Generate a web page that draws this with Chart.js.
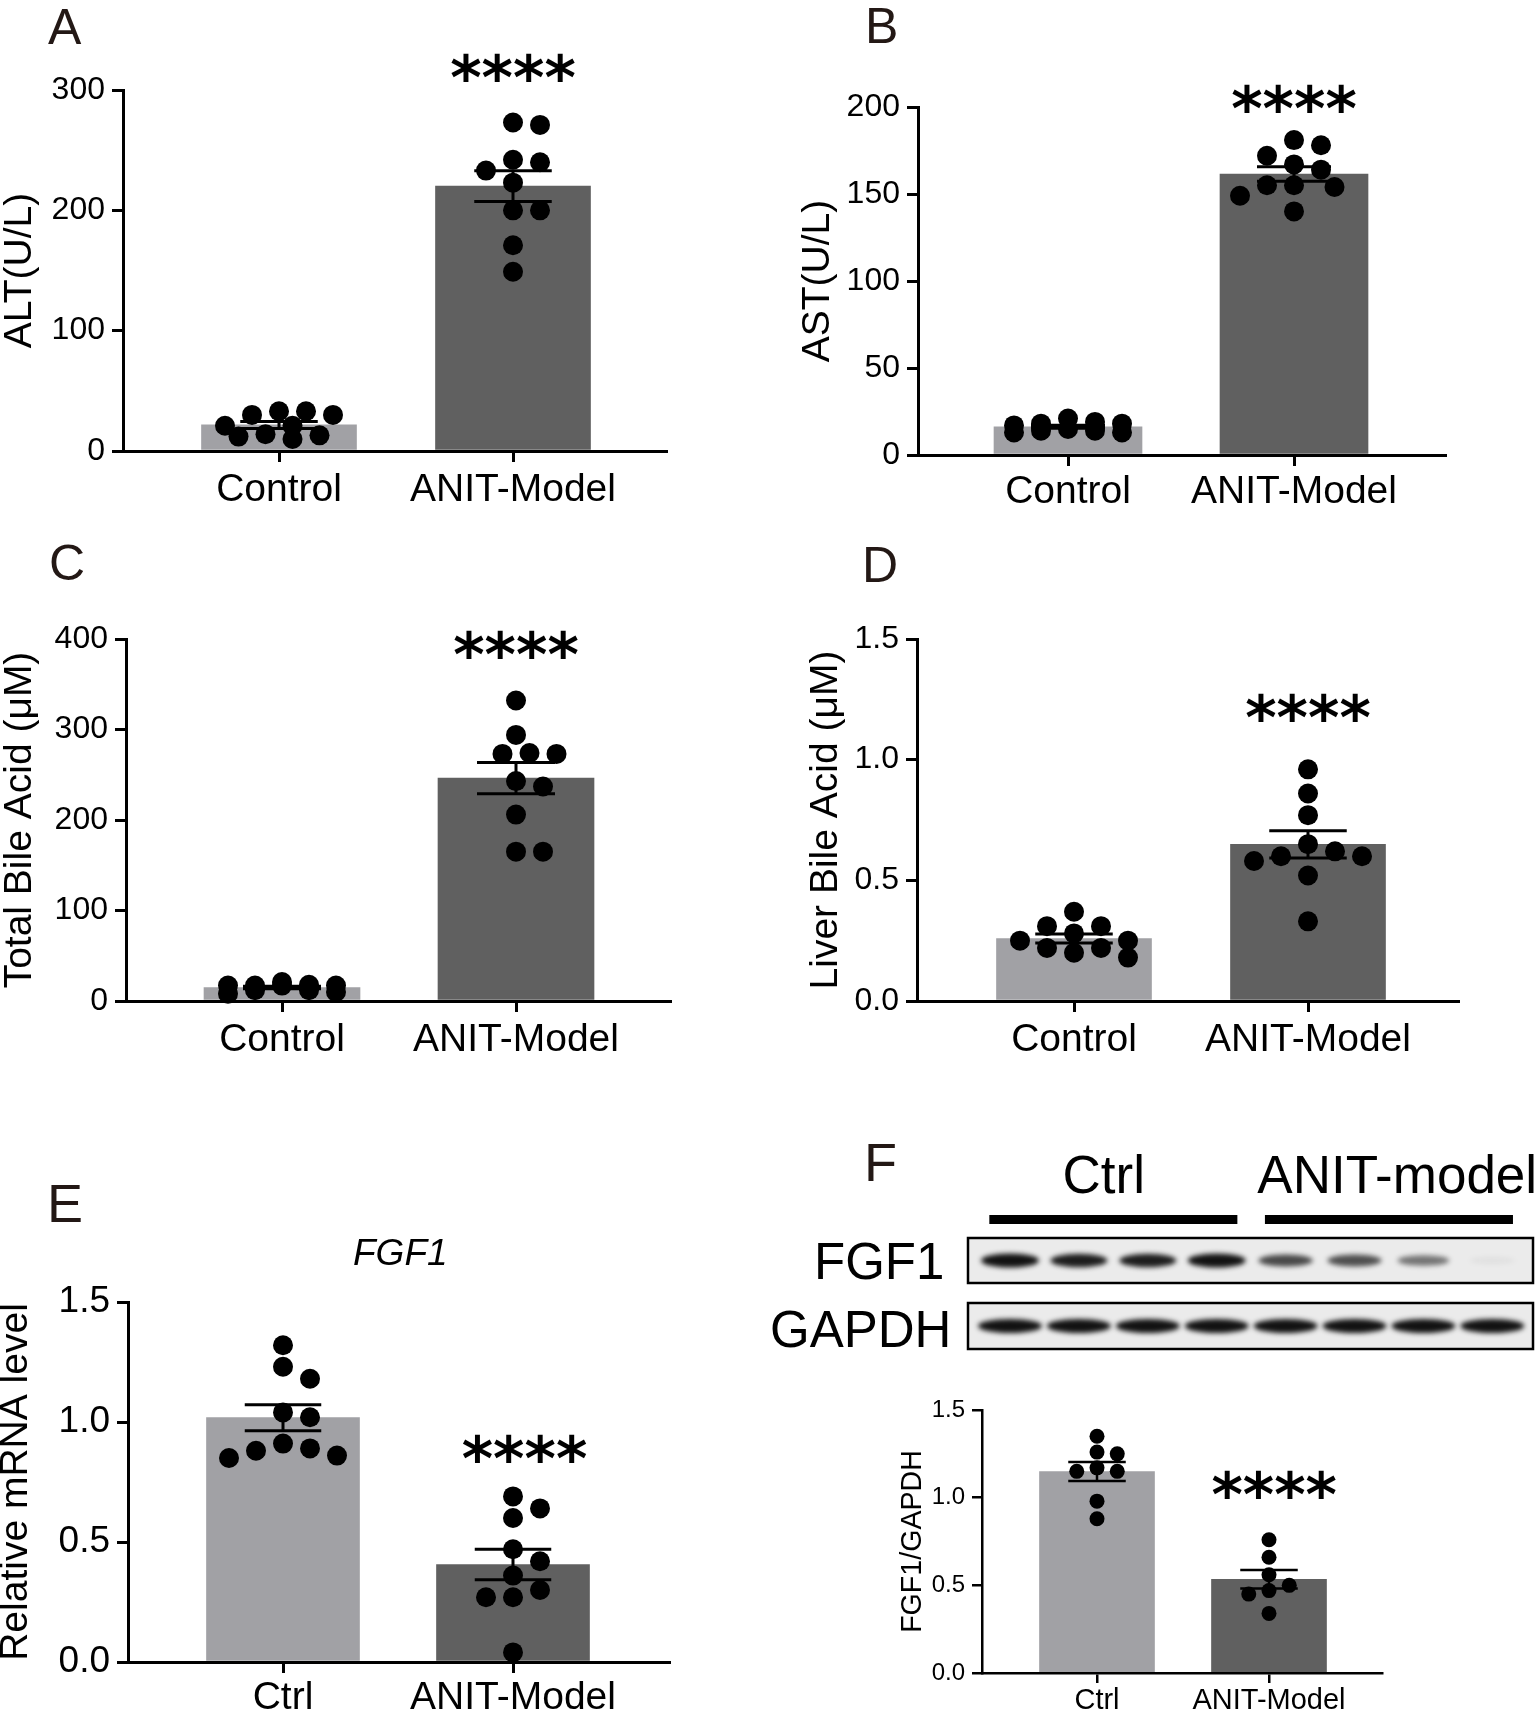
<!DOCTYPE html>
<html>
<head>
<meta charset="utf-8">
<script src="https://cdn.jsdelivr.net/npm/chart.js@4.4.1/dist/chart.umd.min.js"></script>
<style>
html, body { margin: 0; padding: 0; background: #fff; }
#page { position: relative; width: 1535px; height: 1712px; overflow: hidden; background: #fff; }
#page canvas { position: absolute; }
.letter { position: absolute; font-family: 'Liberation Sans', Arial, sans-serif; line-height: 1; color: #231815; }
</style>
</head>
<body>
<div id="page">
  <div class="letter" style="left:48px;top:2px;font-size:50px">A</div>
  <div class="letter" style="left:865px;top:1px;font-size:50px">B</div>
  <div class="letter" style="left:49px;top:538px;font-size:50px">C</div>
  <div class="letter" style="left:862px;top:540px;font-size:50px">D</div>
  <div class="letter" style="left:47px;top:1176px;font-size:54px">E</div>
  <div class="letter" style="left:864px;top:1135px;font-size:54px">F</div>
</div>
<script>
'use strict';

// ---- data ----
var groupsLong  = ['Control', 'ANIT-Model'];
var groupsShort = ['Ctrl', 'ANIT-Model'];

var altControl = [30, 33, 33, 30, 21, 21, 14, 13, 10, 12];
var altModel   = [271, 273, 242, 240, 233, 223, 200, 200, 171, 149];

var astControl = [18, 19, 21, 18, 17, 14, 13, 14, 13, 15];
var astModel   = [178, 181, 167, 172, 164, 155, 155, 154, 149, 140];

var tbaControl = [17, 17, 12, 18, 8, 10, 21, 12, 17, 17];
var tbaModel   = [332, 294, 273, 273, 274, 243, 237, 206, 165, 165];

var lbaControl = [0.37, 0.31, 0.31, 0.28, 0.25, 0.25, 0.22, 0.22, 0.20, 0.18];
var lbaModel   = [0.96, 0.86, 0.77, 0.65, 0.62, 0.60, 0.58, 0.60, 0.52, 0.33];

var mrnaCtrl  = [1.32, 1.23, 1.18, 1.04, 1.02, 0.91, 0.88, 0.85, 0.86, 0.89];
var mrnaModel = [0.69, 0.64, 0.60, 0.47, 0.42, 0.36, 0.30, 0.27, 0.27, 0.04];

var wbCtrl  = [1.35, 1.26, 1.25, 1.17, 1.15, 1.15, 0.98, 0.88];
var wbModel = [0.76, 0.66, 0.56, 0.50, 0.47, 0.45, 0.34];

// western blot band strength per lane (0..1)
var blotGroups = ['Ctrl', 'ANIT-model'];
var fgf1Band   = [1, 0.95, 0.95, 1, 0.75, 0.72, 0.55, 0.05];
var gapdhBand  = [1, 1, 1, 1, 1, 1, 1, 1];

var ctrlGray  = '#a1a1a5';
var modelGray = '#606060';
var FONT = "'Liberation Sans', Arial, sans-serif";

Chart.defaults.font.family = FONT;
Chart.defaults.color = '#000';
Chart.defaults.animation = false;

var page = document.getElementById('page');

function mean(a) {
    return a.reduce(function (s, v) { return s + v; }, 0) / a.length;
}
function sem(a) {
    var m = mean(a);
    var ss = a.reduce(function (s, v) { return s + (v - m) * (v - m); }, 0);
    return Math.sqrt(ss / (a.length - 1)) / Math.sqrt(a.length);
}

function addCanvas(box) {
    var cv = document.createElement('canvas');
    cv.width = box[2];
    cv.height = box[3];
    cv.style.left = box[0] + 'px';
    cv.style.top = box[1] + 'px';
    page.appendChild(cv);
    return cv;
}

// spread the dots of each group sideways on a small grid of offsets,
// keeping them inside the bar and letting them overlap when they must
var swarmPlugin = {
    id: 'swarm',
    afterDatasetsUpdate: function (chart, args, opts) {
        var gx = opts.gx, gy = opts.gy, step = opts.step;
        var maxK = Math.floor(opts.maxOff / step);
        chart.data.datasets.forEach(function (ds, di) {
            if (ds.type !== 'scatter') return;
            var pts = chart.getDatasetMeta(di).data;
            var idx = pts.map(function (p, i) { return i; })
                .sort(function (a, b) { return pts[a].y - pts[b].y; });
            var placed = [];
            idx.forEach(function (i) {
                var y = pts[i].y, best = 0, bestPen = Infinity;
                for (var k = 0; k <= maxK; k++) {
                    [k, -k].forEach(function (kk) {
                        var c = kk * step, pen = Math.abs(c) * 1e-4;
                        placed.forEach(function (q) {
                            var u = (q.off - c) / gx, w = (q.y - y) / gy, d2 = u * u + w * w;
                            if (d2 < 1) pen += 1 - d2;
                        });
                        if (pen < bestPen - 1e-9) { bestPen = pen; best = c; }
                    });
                }
                placed.push({ off: best, y: y });
                pts[i].x += best;
            });
        });
    }
};

function panel(p) {
    var box = p.box;
    var cv = addCanvas(box);
    var unit = p.centers[1] - p.centers[0];
    var axisStyle = {
        display: true, drawOnChartArea: false, drawTicks: true, offset: false,
        tickLength: p.tl, tickWidth: p.lw, lineWidth: p.lw, tickColor: '#000', color: '#000'
    };

    var notes = {
        id: 'notes',
        afterDatasetsDraw: function (chart) {
            var ctx = chart.ctx, xs = chart.scales.x, ys = chart.scales.y;
            var cap = p.barW * 0.25;
            ctx.save();
            ctx.strokeStyle = '#000';
            ctx.lineWidth = p.lw;
            p.values.forEach(function (vals, g) {
                var m = mean(vals), e = sem(vals);
                var x = xs.getPixelForValue(g);
                var t = ys.getPixelForValue(m + e), b = ys.getPixelForValue(m - e);
                ctx.beginPath();
                ctx.moveTo(x, t); ctx.lineTo(x, b);
                ctx.moveTo(x - cap, t); ctx.lineTo(x + cap, t);
                ctx.moveTo(x - cap, b); ctx.lineTo(x + cap, b);
                ctx.stroke();
            });
            ctx.restore();
        },
        afterDraw: function (chart) {
            var ctx = chart.ctx, xs = chart.scales.x, ys = chart.scales.y;
            ctx.save();
            ctx.fillStyle = '#000';
            ctx.textAlign = 'center';
            ctx.textBaseline = 'alphabetic';
            ctx.font = 'bold 60px "DejaVu Sans"';
            ctx.fillText('****', xs.getPixelForValue(p.star[0]), ys.getPixelForValue(p.star[1]) + 0.55 * 60);
            if (p.heading) {
                ctx.font = 'italic ' + p.heading.size + 'px ' + FONT;
                ctx.fillText(p.heading.text, xs.getPixelForValue(p.heading.at[0]), ys.getPixelForValue(p.heading.at[1]));
            }
            ctx.restore();
        }
    };

    return new Chart(cv, {
        type: 'scatter',
        data: {
            datasets: [
                {
                    type: 'scatter',
                    data: p.values[0].map(function (v) { return { x: 0, y: v }; }),
                    pointRadius: p.r, pointHoverRadius: p.r,
                    backgroundColor: '#000', borderWidth: 0, clip: false, order: 1
                },
                {
                    type: 'scatter',
                    data: p.values[1].map(function (v) { return { x: 1, y: v }; }),
                    pointRadius: p.r, pointHoverRadius: p.r,
                    backgroundColor: '#000', borderWidth: 0, clip: false, order: 1
                },
                {
                    type: 'bar',
                    data: [{ x: 0, y: mean(p.values[0]) }, { x: 1, y: mean(p.values[1]) }],
                    backgroundColor: [ctrlGray, modelGray],
                    barThickness: p.barW, borderWidth: 0, order: 5
                }
            ]
        },
        options: {
            responsive: false,
            events: [],
            layout: {
                padding: { left: 0, bottom: 0, top: p.yTop - box[1], right: box[0] + box[2] - p.xRight }
            },
            plugins: {
                legend: { display: false },
                tooltip: { enabled: false },
                swarm: { gx: p.r * 2.7, gy: p.r * 1.9, step: p.r * 1.35, maxOff: p.barW * 0.42 }
            },
            scales: {
                x: {
                    type: 'linear', z: 1, offset: false,
                    min: (p.axisX - p.centers[0]) / unit,
                    max: 1 + (p.xRight - p.centers[1]) / unit,
                    afterBuildTicks: function (s) { s.ticks = [{ value: 0 }, { value: 1 }]; },
                    afterFit: function (s) { s.height = box[1] + box[3] - p.yBottom; },
                    ticks: {
                        autoSkip: false, maxRotation: 0, padding: p.catPad, color: '#000',
                        font: { size: p.catSize, lineHeight: 1 },
                        callback: function (v, i) { return p.labels[i]; }
                    },
                    grid: axisStyle,
                    border: { display: true, color: '#000', width: p.lw }
                },
                y: {
                    type: 'linear', z: 1, min: 0, max: p.yMax,
                    afterFit: function (s) { s.width = p.axisX - box[0]; },
                    ticks: {
                        stepSize: p.step, padding: 7, color: '#000',
                        font: { size: p.tickSize, lineHeight: 1 },
                        callback: function (v) { return v.toFixed(p.dec); }
                    },
                    grid: axisStyle,
                    border: { display: true, color: '#000', width: p.lw },
                    title: {
                        display: true, text: p.title, color: '#000',
                        font: { size: p.titleSize, lineHeight: 1 },
                        padding: { top: p.titleX - box[0] - p.titleSize / 2, bottom: 0 }
                    }
                }
            }
        },
        plugins: [swarmPlugin, notes]
    });
}

var panels = [
    { box: [0, 0, 700, 540], axisX: 123, yTop: 90, yBottom: 451, xRight: 666, centers: [279, 513], barW: 155,
      yMax: 300, step: 100, dec: 0, tickSize: 32, catSize: 39, catPad: 9, titleSize: 39, titleX: 20,
      title: 'ALT(U/L)', labels: groupsLong, values: [altControl, altModel], r: 10, lw: 3, tl: 11, star: [1, 320] },
    { box: [770, 0, 765, 540], axisX: 918, yTop: 107, yBottom: 455, xRight: 1445, centers: [1068, 1294], barW: 148,
      yMax: 200, step: 50, dec: 0, tickSize: 32, catSize: 39, catPad: 7, titleSize: 39, titleX: 818,
      title: 'AST(U/L)', labels: groupsLong, values: [astControl, astModel], r: 10, lw: 3, tl: 11, star: [1, 205.7] },
    { box: [0, 540, 700, 540], axisX: 126, yTop: 639, yBottom: 1001, xRight: 670, centers: [282, 516], barW: 156,
      yMax: 400, step: 100, dec: 0, tickSize: 32, catSize: 39, catPad: 9, titleSize: 39, titleX: 20,
      title: 'Total Bile Acid (\u03bcM)', labels: groupsLong, values: [tbaControl, tbaModel], r: 10, lw: 3, tl: 11, star: [1, 395.6] },
    { box: [770, 540, 765, 540], axisX: 917, yTop: 639, yBottom: 1001, xRight: 1458, centers: [1074, 1308], barW: 155,
      yMax: 1.5, step: 0.5, dec: 1, tickSize: 32, catSize: 39, catPad: 9, titleSize: 39, titleX: 826,
      title: 'Liver Bile Acid (\u03bcM)', labels: groupsLong, values: [lbaControl, lbaModel], r: 10, lw: 3, tl: 11, star: [1, 1.222] },
    { box: [0, 1180, 700, 532], axisX: 128, yTop: 1302, yBottom: 1662, xRight: 669, centers: [283, 513], barW: 153,
      yMax: 1.5, step: 0.5, dec: 1, tickSize: 37, catSize: 39, catPad: 6, titleSize: 39, titleX: 16,
      title: 'Relative mRNA level', labels: groupsShort, values: [mrnaCtrl, mrnaModel], r: 10, lw: 3, tl: 11,
      star: [1.05, 0.896], heading: { text: 'FGF1', size: 37, at: [0.51, 1.654] } },
    { box: [770, 1380, 765, 332], axisX: 982, yTop: 1410, yBottom: 1673, xRight: 1382, centers: [1097, 1269], barW: 115,
      yMax: 1.5, step: 0.5, dec: 1, tickSize: 24, catSize: 29, catPad: 3, titleSize: 28.6, titleX: 913,
      title: 'FGF1/GAPDH', labels: groupsShort, values: [wbCtrl, wbModel], r: 7.5, lw: 2.5, tl: 10, star: [1.03, 1.084] }
];

panels.forEach(panel);

// ---- western blot strip of panel F ----
(function () {
    var box = [760, 1140, 775, 230];
    var boxL = 968, boxR = 1533, lane0 = 1010, pitch = 68.9;
    var labelLane = [1.36, 5.62];
    var cv = addCanvas(box);
    var rows = [
        { name: 'FGF1', bands: fgf1Band, top: 98, h: 45, labelX: 814, base: 139, rx: [22, 7], ry: [3, 4] },
        { name: 'GAPDH', bands: gapdhBand, top: 163, h: 46, labelX: 770, base: 207, rx: [25, 7], ry: [3, 4] }
    ];

    var drawBlot = {
        id: 'blot',
        afterDraw: function (chart) {
            var ctx = chart.ctx, xs = chart.scales.x;
            var L = chart.chartArea.left, R = chart.chartArea.right;
            var per = fgf1Band.length / blotGroups.length;
            ctx.save();
            ctx.fillStyle = '#000';
            ctx.textAlign = 'center';
            ctx.textBaseline = 'alphabetic';
            ctx.font = '53px ' + FONT;
            blotGroups.forEach(function (name, g) {
                var a = xs.getPixelForValue(g * per - 0.3);
                var z = xs.getPixelForValue(g * per + per - 1 + 0.3);
                ctx.fillRect(a, 75, z - a, 9);
                ctx.fillText(name, xs.getPixelForValue(labelLane[g]), 53);
            });
            rows.forEach(function (row) {
                ctx.fillStyle = '#ebebeb';
                ctx.fillRect(L, row.top, R - L, row.h);
                var cy = row.top + row.h / 2;
                row.bands.forEach(function (v, i) {
                    var x = xs.getPixelForValue(i);
                    ctx.save();
                    ctx.filter = 'blur(2.5px)';
                    ctx.fillStyle = 'rgba(18,18,18,' + v + ')';
                    ctx.beginPath();
                    ctx.ellipse(x, cy, row.rx[0] + row.rx[1] * v, row.ry[0] + row.ry[1] * v, 0, 0, Math.PI * 2);
                    ctx.fill();
                    ctx.restore();
                });
                ctx.strokeStyle = '#000';
                ctx.lineWidth = 2.5;
                ctx.strokeRect(L, row.top, R - L, row.h);
                ctx.fillStyle = '#000';
                ctx.textAlign = 'left';
                ctx.font = '51px ' + FONT;
                ctx.fillText(row.name, row.labelX - box[0], row.base);
                ctx.textAlign = 'center';
            });
            ctx.restore();
        }
    };

    new Chart(cv, {
        type: 'scatter',
        data: { datasets: [] },
        options: {
            responsive: false,
            events: [],
            layout: { padding: { left: boxL - box[0], right: box[0] + box[2] - boxR, top: 0, bottom: 0 } },
            plugins: { legend: { display: false }, tooltip: { enabled: false } },
            scales: {
                x: { type: 'linear', display: false, min: (boxL - lane0) / pitch, max: (boxR - lane0) / pitch },
                y: { type: 'linear', display: false, min: 0, max: 1 }
            }
        },
        plugins: [drawBlot]
    });
})();
</script>
</body>
</html>
